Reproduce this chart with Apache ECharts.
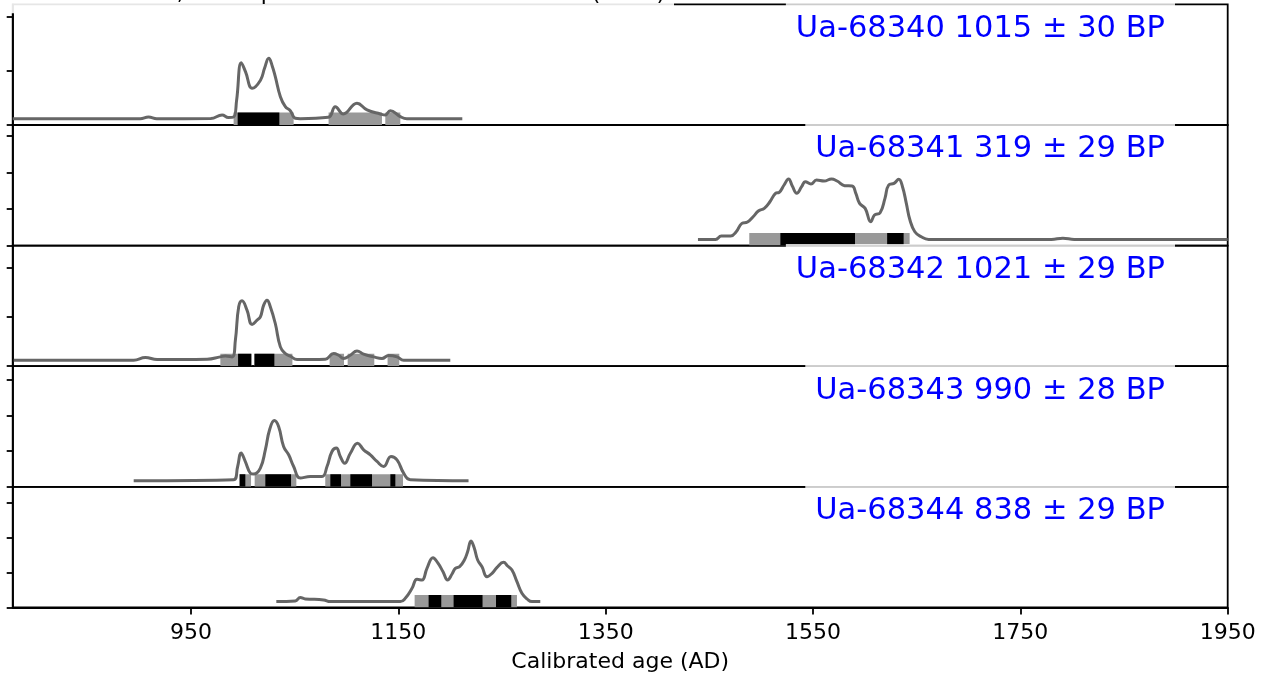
<!DOCTYPE html>
<html>
<head>
<meta charset="utf-8">
<script src="https://cdn.jsdelivr.net/npm/echarts@6/dist/echarts.min.js"></script>
<style>
  html, body { margin: 0; padding: 0; background: #fff; }
  #chart { width: 1266px; height: 677px; }
</style>
</head>
<body>
<div id="chart"></div>
<script>
// ---------------- data ----------------
const xMin = 778, xMax = 1950;
const xTickValues = [950, 1150, 1350, 1550, 1750, 1950];
const xAxisName = 'Calibrated age (AD)';
const headerText = 'IOSACal v0.6.0; Atmospheric data from Reimer et al (2020)';

const sampleLabels = [
  'Ua-68340 1015 ± 30 BP',
  'Ua-68341 319 ± 29 BP',
  'Ua-68342 1021 ± 29 BP',
  'Ua-68343 990 ± 28 BP',
  'Ua-68344 838 ± 29 BP'
];

// y scale per panel (arbitrary density units, one unit per tick)
const yMaxes = [2.233, 3.30, 2.46, 3.378, 3.446];
const yTickValues = [[0, 1, 2], [0, 1, 2, 3], [0, 1, 2], [0, 1, 2, 3], [0, 1, 2, 3]];

// calibrated probability curves [year AD, density]
const curve1 = [
  [778,0.115],[901,0.115],[909,0.148],[917,0.115],[969,0.12],[980,0.185],[986,0.14],[991,0.148],
  [994,0.46],[998.5,1.154],[1002.7,0.98],[1009,0.68],[1017,0.83],[1021,1.055],[1025,1.235],
  [1028.4,1.09],[1031.3,0.894],[1036.2,0.524],[1041,0.339],[1045.8,0.265],[1050.6,0.124],
  [1055.4,0.117],[1082.4,0.143],[1089.2,0.339],[1096.9,0.204],[1110.1,0.402],[1119.8,0.278],
  [1132.6,0.204],[1137.4,0.185],[1142.2,0.265],[1151.9,0.154],[1158.3,0.117],[1211.7,0.115]
];
const curve2 = [
  [1439,0.17],[1456,0.17],[1461.5,0.26],[1470.5,0.26],[1475.9,0.38],[1481.4,0.608],[1486.8,0.644],
  [1492.2,0.789],[1497.6,0.953],[1503,1.019],[1508.4,1.2],[1513.8,1.43],[1517.4,1.458],[1522.1,1.658],
  [1526.4,1.822],[1530,1.63],[1534.3,1.43],[1539,1.611],[1542.6,1.748],[1548,1.685],[1553.4,1.795],
  [1560.7,1.767],[1567.8,1.822],[1573.2,1.767],[1580.5,1.64],[1587.7,1.63],[1591.3,1.43],[1594.9,1.156],
  [1600.3,1.019],[1605.7,0.652],[1609.3,0.836],[1614.7,0.9],[1619.4,1.293],[1623,1.658],[1628.1,1.703],
  [1632.7,1.813],[1636.3,1.611],[1640,1.156],[1643.5,0.699],[1648.2,0.38],[1654.3,0.242],[1661.5,0.17],
  [1780,0.17],[1791,0.2],[1802,0.17],[1950,0.17]
];
const curve3 = [
  [779,0.122],[894.7,0.122],[906,0.177],[917.3,0.137],[965.5,0.143],[978.3,0.19],[983.1,0.21],
  [989.6,0.19],[992.8,0.531],[996,1.211],[999.2,1.333],[1004,1.143],[1008.9,0.851],[1013.7,0.939],
  [1016.9,1.006],[1020.1,1.245],[1023.3,1.347],[1026.5,1.211],[1031.3,0.871],[1036.2,0.394],
  [1041,0.259],[1045.8,0.204],[1052.3,0.137],[1079.6,0.143],[1087.6,0.259],[1092.4,0.224],
  [1097.2,0.157],[1103.6,0.224],[1110.1,0.312],[1116.5,0.245],[1126.1,0.19],[1134.2,0.157],
  [1140.6,0.218],[1148.7,0.19],[1155.1,0.122],[1200.1,0.122]
];
const curve4 = [
  [894.7,0.168],[991.1,0.196],[995,0.569],[998.3,0.944],[1002.4,0.708],[1007.2,0.384],[1010.4,0.356],
  [1016.9,0.524],[1021.7,1.036],[1025.8,1.597],[1030.4,1.857],[1034.5,1.689],[1039.3,1.129],
  [1044.2,0.897],[1049,0.569],[1055.4,0.244],[1065.1,0.289],[1076.4,0.289],[1081.2,0.569],
  [1086,0.989],[1090.2,1.084],[1094,0.849],[1098.2,0.661],[1103.7,0.941],[1110.7,1.221],
  [1116.5,1.036],[1123,0.896],[1129.4,0.709],[1135.8,0.569],[1142.9,0.849],[1148.7,0.756],
  [1155.1,0.383],[1161.5,0.196],[1217.7,0.168]
];
const curve5 = [
  [1032.3,0.166],[1050.6,0.186],[1055.4,0.28],[1060.2,0.243],[1077.9,0.214],[1084.4,0.166],
  [1151.9,0.166],[1156.7,0.26],[1163.2,0.546],[1168,0.803],[1172.8,0.783],[1177.6,1.117],
  [1183.4,1.42],[1187.9,1.277],[1193.1,1.02],[1197.5,0.783],[1201.8,0.954],[1205,1.117],
  [1209.1,1.163],[1213.7,1.354],[1216.8,1.591],[1220.1,1.897],[1223.3,1.689],[1226.5,1.354],
  [1230.7,1.163],[1235.5,0.877],[1240.4,0.974],[1245.2,1.145],[1251.5,1.289],[1255.4,1.183],
  [1259.6,1.069],[1264.4,0.734],[1269.2,0.403],[1274.1,0.243],[1278.9,0.166],[1286.9,0.166]
];

// 95.4% (grey) and 68.2% (black) ranges [from, to]
const range95_1 = [[991.1,1049],[1082.7,1134.2],[1137.4,1151.9]];
const range68_1 = [[995,1035.2]];
const range95_2 = [[1488.5,1643.2]];
const range68_2 = [[1518.5,1590.5],[1621.5,1637.4]];
const range95_3 = [[978.3,1008.2],[1011.2,1047.8],[1083.7,1097.6],[1101.1,1126.8],[1139.6,1150.9]];
const range68_3 = [[995.4,1008.2],[1011.2,1030.4]];
const range95_4 = [[996.9,1007.9],[1011.4,1051.6],[1079.5,1154.5]];
const range68_4 = [[996.9,1002.4],[1021.7,1046.5],[1084.4,1094.7],[1103.7,1124.6],[1142.3,1147.1]];
const range95_5 = [[1165.7,1264.4]];
const range68_5 = [[1179.2,1191.4],[1203.3,1231.2],[1244.2,1258.9]];

const curves = [curve1, curve2, curve3, curve4, curve5];
const ranges95 = [range95_1, range95_2, range95_3, range95_4, range95_5];
const ranges68 = [range68_1, range68_2, range68_3, range68_4, range68_5];

// ---------------- layout / style ----------------
const FONT = 'DejaVu Sans';
const gridLeft = 12.7, gridRight = 38.3, firstTop = 4.4, panelH = 120.6;
const BAR_H = 12.5;
const LINE_W = 1.8;

const grids = [], xAxes = [], yAxes = [], series = [], titles = [];

// header text (mostly above the visible area, as in the reference)
titles.push({
  text: headerText,
  left: 3.9, top: -24.6,
  backgroundColor: 'rgba(255,255,255,0.9)',
  padding: [8, 9, 7.8, 9],
  textStyle: { fontFamily: FONT, fontSize: 22, fontWeight: 'normal', color: '#000', lineHeight: 22 }
});

for (let i = 0; i < 5; i++) {
  const top = firstTop + i * panelH;
  const isLast = i === 4;
  grids.push({
    left: gridLeft, right: gridRight, top: top, height: panelH,
    show: true, borderColor: '#000', borderWidth: LINE_W, backgroundColor: 'transparent'
  });
  xAxes.push({
    type: 'value', gridIndex: i, min: xMin, max: xMax,
    show: isLast,
    name: isLast ? xAxisName : '',
    nameLocation: 'middle', nameGap: 44,
    nameTextStyle: { fontFamily: FONT, fontSize: 22, color: '#000' },
    axisLine: { show: true, onZero: false, lineStyle: { color: '#000', width: LINE_W } },
    axisTick: { show: true, inside: false, length: 7, customValues: xTickValues,
      lineStyle: { color: '#000', width: LINE_W } },
    axisLabel: { show: true, customValues: xTickValues, margin: 15,
      formatter: (v) => String(Math.round(v)),
      fontFamily: FONT, fontSize: 22, color: '#000' },
    splitLine: { show: false }
  });
  yAxes.push({
    type: 'value', gridIndex: i, min: 0, max: yMaxes[i],
    axisLine: { show: true, onZero: false, lineStyle: { color: '#000', width: LINE_W } },
    axisTick: { show: true, inside: false, length: 6, customValues: yTickValues[i],
      lineStyle: { color: '#000', width: LINE_W } },
    axisLabel: { show: false },
    splitLine: { show: false }
  });

  const barSeries = (data, color, z) => ({
    type: 'custom', xAxisIndex: i, yAxisIndex: i, data: data, z: z, silent: true,
    encode: { x: [0, 1] },
    clip: true,
    renderItem: (params, api) => {
      const p0 = api.coord([api.value(0), 0]);
      const p1 = api.coord([api.value(1), 0]);
      return {
        type: 'rect',
        shape: { x: p0[0], y: p0[1] - BAR_H, width: p1[0] - p0[0], height: BAR_H },
        style: { fill: color }
      };
    }
  });
  series.push(barSeries(ranges95[i], '#999999', 2));
  series.push(barSeries(ranges68[i], '#000000', 3));
  series.push({
    type: 'line', xAxisIndex: i, yAxisIndex: i, data: curves[i],
    showSymbol: false, symbol: 'none', smooth: 0.45,
    lineStyle: { color: '#666666', width: 3 }, z: 4, silent: true, clip: true
  });

  titles.push({
    text: sampleLabels[i],
    right: 91, top: top - 1.5,
    backgroundColor: 'rgba(255,255,255,0.8)',
    padding: [10, 10, 8, 10],
    textStyle: { fontFamily: FONT, fontSize: 30.5, fontWeight: 'normal', color: '#0000ff', lineHeight: 32 }
  });
}

const chart = echarts.init(document.getElementById('chart'), null, { renderer: 'canvas' });
chart.setOption({
  animation: false,
  backgroundColor: '#fff',
  title: titles,
  grid: grids,
  xAxis: xAxes,
  yAxis: yAxes,
  series: series
});
</script>
</body>
</html>
